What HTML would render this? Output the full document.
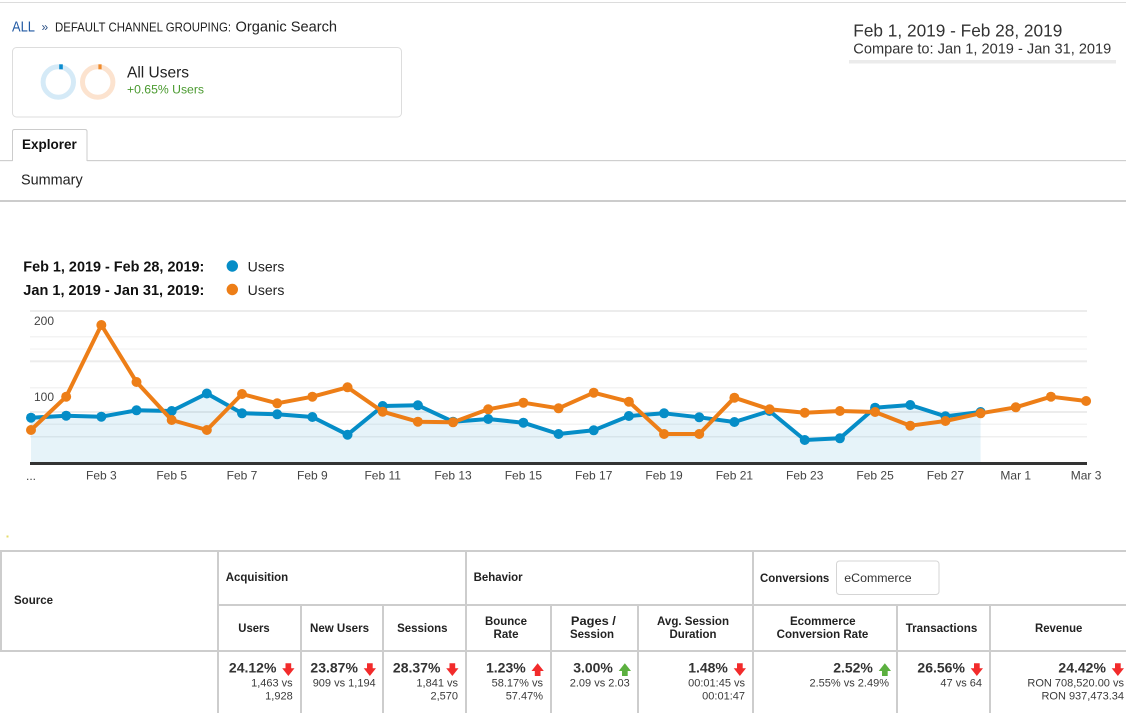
<!DOCTYPE html>
<html>
<head>
<meta charset="utf-8">
<style>
html,body{margin:0;padding:0;background:#fff;width:1126px;height:713px;overflow:hidden}
svg{display:block}
text{font-family:"Liberation Sans",Arial,sans-serif}
</style>
</head>
<body>
<svg width="1126" height="713" viewBox="0 0 1126 713">
<rect x="0" y="0" width="1126" height="713" fill="#fff"/>
<!-- top line -->
<rect x="0" y="2" width="1126" height="1" fill="#dcdcdc"/>

<!-- breadcrumb -->
<text x="12" y="31.7" font-size="14.5" fill="#2159a3" textLength="23" lengthAdjust="spacingAndGlyphs">ALL</text>
<text x="41.5" y="31" font-size="12" fill="#2a4f85">»</text>
<text x="55" y="31.7" font-size="12.5" fill="#222" textLength="176" lengthAdjust="spacingAndGlyphs">DEFAULT CHANNEL GROUPING:</text>
<text x="235.5" y="31.7" font-size="14.8" fill="#222" textLength="101.5" lengthAdjust="spacingAndGlyphs">Organic Search</text>

<!-- segment box -->
<rect x="12.5" y="47.5" width="389" height="69.5" rx="4" fill="#fff" stroke="#dddddd"/>
<circle cx="58.3" cy="82" r="15.2" fill="none" stroke="#d5eaf7" stroke-width="5"/>
<rect x="59.2" y="64.3" width="3.6" height="5" fill="#0a8ccf"/>
<circle cx="97.7" cy="82" r="15.2" fill="none" stroke="#fce3cf" stroke-width="5"/>
<rect x="98.4" y="64.3" width="3.2" height="5" fill="#f08a2a"/>
<text x="127" y="77.3" font-size="15.8" fill="#222" textLength="62" lengthAdjust="spacingAndGlyphs">All Users</text>
<text x="127" y="93.3" font-size="12.2" fill="#4a9a2f" textLength="77" lengthAdjust="spacingAndGlyphs">+0.65% Users</text>

<!-- tabs -->
<rect x="0" y="160" width="12.5" height="1.2" fill="#cfcfcf"/>
<rect x="87" y="160" width="1039" height="1.2" fill="#cfcfcf"/>
<path d="M12.5 161V131.5Q12.5 129.5 14.5 129.5H85Q87 129.5 87 131.5V161" fill="#fff" stroke="#cccccc" stroke-width="1"/>
<text x="22" y="149" font-size="13.8" font-weight="bold" fill="#111" textLength="54.7" lengthAdjust="spacingAndGlyphs">Explorer</text>
<text x="21" y="184.3" font-size="14.6" fill="#222" textLength="61.7" lengthAdjust="spacingAndGlyphs">Summary</text>
<rect x="0" y="200" width="1126" height="2" fill="#cccccc"/>

<!-- date range -->
<text x="853.3" y="36.7" font-size="17.5" fill="#333" textLength="209" lengthAdjust="spacingAndGlyphs">Feb 1, 2019 - Feb 28, 2019</text>
<text x="853.3" y="53.3" font-size="15" fill="#333" textLength="258" lengthAdjust="spacingAndGlyphs">Compare to: Jan 1, 2019 - Jan 31, 2019</text>
<rect x="849" y="60" width="267" height="3.5" fill="#ebebeb"/>

<!-- legend -->
<text x="23.3" y="271.7" font-size="14.4" font-weight="bold" fill="#111" textLength="181" lengthAdjust="spacingAndGlyphs">Feb 1, 2019 - Feb 28, 2019:</text>
<circle cx="232.3" cy="266" r="5.7" fill="#058dc7"/>
<text x="247.7" y="271.7" font-size="14" fill="#222" textLength="36.7" lengthAdjust="spacingAndGlyphs">Users</text>
<text x="23.3" y="295" font-size="14.4" font-weight="bold" fill="#111" textLength="181" lengthAdjust="spacingAndGlyphs">Jan 1, 2019 - Jan 31, 2019:</text>
<circle cx="232.3" cy="289.5" r="5.7" fill="#ed7e17"/>
<text x="247.7" y="295" font-size="14" fill="#222" textLength="36.7" lengthAdjust="spacingAndGlyphs">Users</text>

<!-- gridlines -->
<rect x="30" y="310" width="1057" height="2" fill="#ececec"/>
<rect x="30" y="336" width="1057" height="1.5" fill="#f3f3f3"/>
<rect x="30" y="348.3" width="1057" height="1.5" fill="#f5f5f5"/>
<rect x="30" y="360.3" width="1057" height="2" fill="#ececec"/>
<rect x="30" y="387" width="1057" height="1.5" fill="#f3f3f3"/>
<rect x="30" y="411" width="1057" height="2" fill="#ececec"/>
<rect x="30" y="423.5" width="1057" height="1.5" fill="#f3f3f3"/>
<rect x="30" y="436" width="1057" height="1.5" fill="#efefef"/>

<text x="34" y="325" font-size="12" fill="#444">200</text>
<text x="34" y="401" font-size="12" fill="#444">100</text>

<!-- area fill -->
<polygon fill="#058dc7" fill-opacity="0.1" points="31,417.7 66.17,415.7 101.34,416.7 136.51,410.3 171.68,411 206.85,393.5 242.02,413.3 277.19,414.3 312.36,417 347.53,434.7 382.7,406 417.87,405.3 453.04,421.7 488.21,419 523.38,422.7 558.55,434 593.72,430.3 628.89,416 664.06,413.3 699.23,417.3 734.4,422 769.57,411 804.74,440 839.91,438.3 875.08,407.7 910.25,405 945.42,416.3 980.59,412 980.59,462 31,462"/>

<rect x="30" y="462" width="1057" height="3" fill="#333"/>

<!-- blue series -->
<polyline fill="none" stroke="#058dc7" stroke-width="4" stroke-linejoin="round" stroke-linecap="round" points="31,417.7 66.17,415.7 101.34,416.7 136.51,410.3 171.68,411 206.85,393.5 242.02,413.3 277.19,414.3 312.36,417 347.53,434.7 382.7,406 417.87,405.3 453.04,421.7 488.21,419 523.38,422.7 558.55,434 593.72,430.3 628.89,416 664.06,413.3 699.23,417.3 734.4,422 769.57,411 804.74,440 839.91,438.3 875.08,407.7 910.25,405 945.42,416.3 980.59,412"/>
<g fill="#058dc7">
<circle cx="31" cy="417.7" r="5"/><circle cx="66.17" cy="415.7" r="5"/><circle cx="101.34" cy="416.7" r="5"/><circle cx="136.51" cy="410.3" r="5"/><circle cx="171.68" cy="411" r="5"/><circle cx="206.85" cy="393.5" r="5"/><circle cx="242.02" cy="413.3" r="5"/><circle cx="277.19" cy="414.3" r="5"/><circle cx="312.36" cy="417" r="5"/><circle cx="347.53" cy="434.7" r="5"/><circle cx="382.7" cy="406" r="5"/><circle cx="417.87" cy="405.3" r="5"/><circle cx="453.04" cy="421.7" r="5"/><circle cx="488.21" cy="419" r="5"/><circle cx="523.38" cy="422.7" r="5"/><circle cx="558.55" cy="434" r="5"/><circle cx="593.72" cy="430.3" r="5"/><circle cx="628.89" cy="416" r="5"/><circle cx="664.06" cy="413.3" r="5"/><circle cx="699.23" cy="417.3" r="5"/><circle cx="734.4" cy="422" r="5"/><circle cx="769.57" cy="411" r="5"/><circle cx="804.74" cy="440" r="5"/><circle cx="839.91" cy="438.3" r="5"/><circle cx="875.08" cy="407.7" r="5"/><circle cx="910.25" cy="405" r="5"/><circle cx="945.42" cy="416.3" r="5"/><circle cx="980.59" cy="412" r="5"/>
</g>

<!-- orange series -->
<polyline fill="none" stroke="#ed7e17" stroke-width="4" stroke-linejoin="round" stroke-linecap="round" points="31,430 66.17,396.7 101.34,325 136.51,382 171.68,420 206.85,430 242.02,394 277.19,403.3 312.36,396.7 347.53,387.3 382.7,411.7 417.87,421.7 453.04,422.3 488.21,409.3 523.38,402.7 558.55,408.3 593.72,392.7 628.89,401.7 664.06,434 699.23,434 734.4,397.7 769.57,409.3 804.74,412.7 839.91,411 875.08,412 910.25,425.7 945.42,421 980.59,413.3 1015.76,407.3 1050.93,396.7 1086.1,401"/>
<g fill="#ed7e17">
<circle cx="31" cy="430" r="5"/><circle cx="66.17" cy="396.7" r="5"/><circle cx="101.34" cy="325" r="5"/><circle cx="136.51" cy="382" r="5"/><circle cx="171.68" cy="420" r="5"/><circle cx="206.85" cy="430" r="5"/><circle cx="242.02" cy="394" r="5"/><circle cx="277.19" cy="403.3" r="5"/><circle cx="312.36" cy="396.7" r="5"/><circle cx="347.53" cy="387.3" r="5"/><circle cx="382.7" cy="411.7" r="5"/><circle cx="417.87" cy="421.7" r="5"/><circle cx="453.04" cy="422.3" r="5"/><circle cx="488.21" cy="409.3" r="5"/><circle cx="523.38" cy="402.7" r="5"/><circle cx="558.55" cy="408.3" r="5"/><circle cx="593.72" cy="392.7" r="5"/><circle cx="628.89" cy="401.7" r="5"/><circle cx="664.06" cy="434" r="5"/><circle cx="699.23" cy="434" r="5"/><circle cx="734.4" cy="397.7" r="5"/><circle cx="769.57" cy="409.3" r="5"/><circle cx="804.74" cy="412.7" r="5"/><circle cx="839.91" cy="411" r="5"/><circle cx="875.08" cy="412" r="5"/><circle cx="910.25" cy="425.7" r="5"/><circle cx="945.42" cy="421" r="5"/><circle cx="980.59" cy="413.3" r="5"/><circle cx="1015.76" cy="407.3" r="5"/><circle cx="1050.93" cy="396.7" r="5"/><circle cx="1086.1" cy="401" r="5"/>
</g>

<!-- x labels -->
<g font-size="12" fill="#444" text-anchor="middle">
<text x="31" y="480">...</text>
<text x="101.34" y="479.5">Feb 3</text>
<text x="171.68" y="479.5">Feb 5</text>
<text x="242.02" y="479.5">Feb 7</text>
<text x="312.36" y="479.5">Feb 9</text>
<text x="382.7" y="479.5">Feb 11</text>
<text x="453.04" y="479.5">Feb 13</text>
<text x="523.38" y="479.5">Feb 15</text>
<text x="593.72" y="479.5">Feb 17</text>
<text x="664.06" y="479.5">Feb 19</text>
<text x="734.4" y="479.5">Feb 21</text>
<text x="804.74" y="479.5">Feb 23</text>
<text x="875.08" y="479.5">Feb 25</text>
<text x="945.42" y="479.5">Feb 27</text>
<text x="1015.76" y="479.5">Mar 1</text>
<text x="1086.1" y="479.5">Mar 3</text>
</g>

<rect x="6.5" y="535.5" width="2" height="2" fill="#e6dc6a"/>

<!-- table lines -->
<g fill="#cdcdcd">
<rect x="0" y="550" width="1126" height="2"/>
<rect x="218" y="604" width="908" height="2"/>
<rect x="0" y="650" width="1126" height="2"/>
<rect x="0" y="550" width="2" height="102"/>
<rect x="217" y="550" width="2" height="163"/>
<rect x="300" y="604" width="2" height="109"/>
<rect x="382" y="604" width="2" height="109"/>
<rect x="465" y="550" width="2" height="163"/>
<rect x="550" y="604" width="2" height="109"/>
<rect x="637" y="604" width="2" height="109"/>
<rect x="752" y="550" width="2" height="163"/>
<rect x="896" y="604" width="2" height="109"/>
<rect x="989" y="604" width="2" height="109"/>
</g>

<!-- table header -->
<g font-size="12" font-weight="bold" fill="#222">
<text x="14" y="604" textLength="39" lengthAdjust="spacingAndGlyphs">Source</text>
<text x="225.7" y="581" textLength="62.5" lengthAdjust="spacingAndGlyphs">Acquisition</text>
<text x="473.6" y="581" textLength="49" lengthAdjust="spacingAndGlyphs">Behavior</text>
<text x="760" y="582" textLength="69.3" lengthAdjust="spacingAndGlyphs">Conversions</text>
</g>
<rect x="836.5" y="561" width="102.5" height="33.5" rx="3" fill="#fff" stroke="#d5d5d5"/>
<text x="844.3" y="582" font-size="12.4" fill="#333" textLength="67.3" lengthAdjust="spacingAndGlyphs">eCommerce</text>

<g font-size="12" font-weight="bold" fill="#222" text-anchor="middle">
<text x="254" y="632" textLength="31.4" lengthAdjust="spacingAndGlyphs">Users</text>
<text x="339.5" y="632" textLength="59" lengthAdjust="spacingAndGlyphs">New Users</text>
<text x="422.3" y="632" textLength="50.4" lengthAdjust="spacingAndGlyphs">Sessions</text>
<text x="506" y="625" textLength="42" lengthAdjust="spacingAndGlyphs">Bounce</text>
<text x="506" y="638" textLength="25" lengthAdjust="spacingAndGlyphs">Rate</text>
<text x="593.4" y="625" textLength="45" lengthAdjust="spacingAndGlyphs">Pages /</text>
<text x="592" y="638" textLength="44" lengthAdjust="spacingAndGlyphs">Session</text>
<text x="693" y="625" textLength="72" lengthAdjust="spacingAndGlyphs">Avg. Session</text>
<text x="693" y="638" textLength="47" lengthAdjust="spacingAndGlyphs">Duration</text>
<text x="822.8" y="625" textLength="65.7" lengthAdjust="spacingAndGlyphs">Ecommerce</text>
<text x="822.5" y="638" textLength="91.7" lengthAdjust="spacingAndGlyphs">Conversion Rate</text>
<text x="941.5" y="632" textLength="71.6" lengthAdjust="spacingAndGlyphs">Transactions</text>
<text x="1058.7" y="632" textLength="47.3" lengthAdjust="spacingAndGlyphs">Revenue</text>
</g>

<!-- data row big values -->
<g font-size="14" font-weight="bold" fill="#333" text-anchor="end">
<text x="276.4" y="672.7">24.12%</text>
<text x="357.9" y="672.7">23.87%</text>
<text x="440.4" y="672.7">28.37%</text>
<text x="525.7" y="672.7">1.23%</text>
<text x="612.9" y="672.7">3.00%</text>
<text x="727.9" y="672.7">1.48%</text>
<text x="872.9" y="672.7">2.52%</text>
<text x="964.9" y="672.7">26.56%</text>
<text x="1105.9" y="672.7">24.42%</text>
</g>

<!-- arrows -->
<g fill="#f22b2b">
<path transform="translate(282.2 663.3)" d="M3.3 0H9V5H12.3L6.15 12.7L0 5H3.3Z"/>
<path transform="translate(363.7 663.3)" d="M3.3 0H9V5H12.3L6.15 12.7L0 5H3.3Z"/>
<path transform="translate(446.2 663.3)" d="M3.3 0H9V5H12.3L6.15 12.7L0 5H3.3Z"/>
<path transform="translate(531.5 663.3)" d="M6.15 0L12.3 7.7H9V12.7H3.3V7.7H0Z"/>
<path transform="translate(733.7 663.3)" d="M3.3 0H9V5H12.3L6.15 12.7L0 5H3.3Z"/>
<path transform="translate(970.7 663.3)" d="M3.3 0H9V5H12.3L6.15 12.7L0 5H3.3Z"/>
<path transform="translate(1111.7 663.3)" d="M3.3 0H9V5H12.3L6.15 12.7L0 5H3.3Z"/>
</g>
<g fill="#5cb040">
<path transform="translate(618.7 663.3)" d="M6.15 0L12.3 7.7H9V12.7H3.3V7.7H0Z"/>
<path transform="translate(878.7 663.3)" d="M6.15 0L12.3 7.7H9V12.7H3.3V7.7H0Z"/>
</g>

<!-- data row small values -->
<g font-size="11" fill="#3a3a3a" text-anchor="end">
<text x="292.7" y="686.7">1,463 vs</text>
<text x="292.7" y="699.3">1,928</text>
<text x="375.7" y="686.7">909 vs 1,194</text>
<text x="458" y="686.7">1,841 vs</text>
<text x="458" y="699.3">2,570</text>
<text x="543" y="686.7">58.17% vs</text>
<text x="543" y="699.3">57.47%</text>
<text x="629.7" y="686.7">2.09 vs 2.03</text>
<text x="745" y="686.7">00:01:45 vs</text>
<text x="745" y="699.3">00:01:47</text>
<text x="889" y="686.7">2.55% vs 2.49%</text>
<text x="982" y="686.7">47 vs 64</text>
<text x="1124" y="686.7">RON 708,520.00 vs</text>
<text x="1124" y="699.3">RON 937,473.34</text>
</g>
</svg>
</body>
</html>
